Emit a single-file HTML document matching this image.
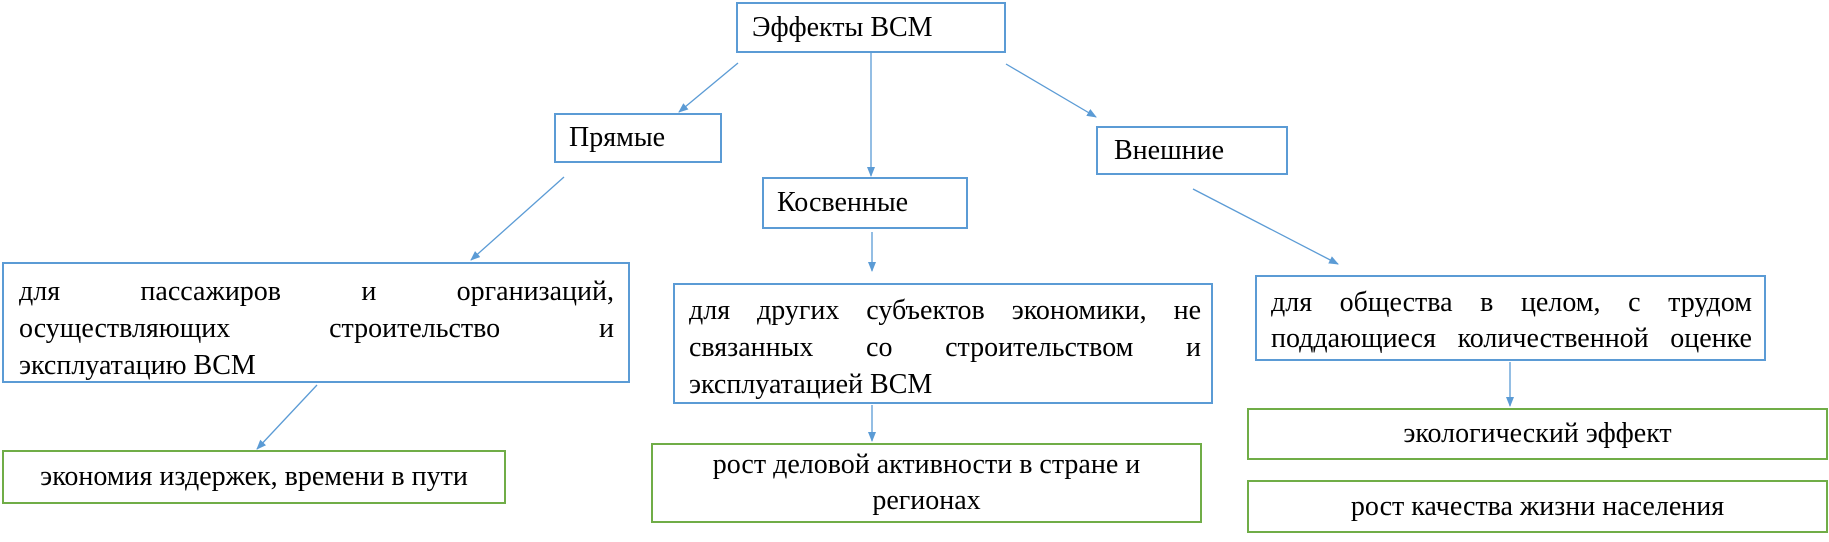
<!DOCTYPE html>
<html><head><meta charset="utf-8">
<style>
body{margin:0;width:1829px;height:542px;background:#fff;position:relative;overflow:hidden;font-family:"Liberation Serif","Times New Roman",serif;color:#000}
.b{position:absolute;box-sizing:border-box;border:2px solid #5B9BD5;font-size:28px;line-height:36px;white-space:nowrap}
.g{border-color:#70AD47;display:flex;align-items:center;justify-content:center;text-align:center}
.s{display:flex;align-items:center}
.j{text-align:justify;text-align-last:justify}
svg{position:absolute;left:0;top:0}
</style></head><body>
<svg width="1829" height="542">
<defs><marker id="a" markerWidth="10" markerHeight="8" refX="9" refY="4" orient="auto" markerUnits="userSpaceOnUse"><path d="M0,0 L10,4 L0,8z" fill="#5B9BD5"/></marker></defs>
<g stroke="#5B9BD5" stroke-width="1.3" fill="none" marker-end="url(#a)">
<line x1="738" y1="63" x2="679" y2="112"/>
<line x1="871" y1="53" x2="871" y2="176"/>
<line x1="1006" y1="64" x2="1096" y2="117"/>
<line x1="564" y1="177" x2="471" y2="260"/>
<line x1="872" y1="232" x2="872" y2="271"/>
<line x1="1193" y1="189" x2="1338" y2="264"/>
<line x1="317" y1="385" x2="257" y2="449"/>
<line x1="872" y1="405" x2="872" y2="441"/>
<line x1="1510" y1="362" x2="1510" y2="406"/>
</g></svg>
<div class="b s" style="left:736px;top:2px;width:270px;height:51px;padding-left:14px">Эффекты ВСМ</div>
<div class="b s" style="left:554px;top:113px;width:168px;height:50px;padding-left:13px">Прямые</div>
<div class="b s" style="left:762px;top:177px;width:206px;height:52px;padding-left:13px">Косвенные</div>
<div class="b s" style="left:1096px;top:126px;width:192px;height:49px;padding-left:16px">Внешние</div>
<div class="b" style="left:2px;top:262px;width:628px;height:121px;padding:9px 14px 0 15px;line-height:37px">
<div class="j">для пассажиров и организаций,</div><div class="j">осуществляющих строительство и</div><div>эксплуатацию ВСМ</div></div>
<div class="b" style="left:673px;top:283px;width:540px;height:121px;padding:7px 10px 0 14px;line-height:37px">
<div class="j">для других субъектов экономики, не</div><div class="j">связанных со строительством и</div><div>эксплуатацией ВСМ</div></div>
<div class="b" style="left:1255px;top:275px;width:511px;height:86px;padding:8px 12px 0 14px">
<div class="j">для общества в целом, с трудом</div><div class="j">поддающиеся количественной оценке</div></div>
<div class="b g" style="left:2px;top:450px;width:504px;height:54px">экономия издержек, времени в пути</div>
<div class="b g" style="left:651px;top:443px;width:551px;height:80px">рост деловой активности в стране и<br>регионах</div>
<div class="b g" style="left:1247px;top:408px;width:581px;height:52px">экологический эффект</div>
<div class="b g" style="left:1247px;top:480px;width:581px;height:53px">рост качества жизни населения</div>
</body></html>
